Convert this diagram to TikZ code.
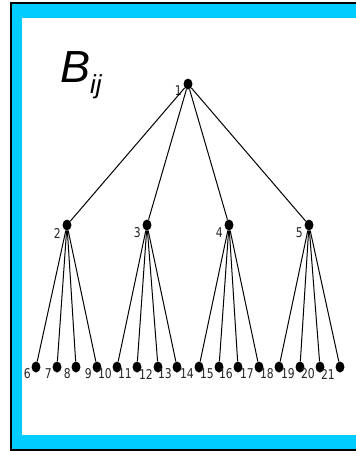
\documentclass[tikz,border=0pt]{standalone}
\usepackage{fontspec}
\setmainfont{Liberation Sans}
\newfontfamily\numfont[FakeStretch=0.8]{DejaVu Sans}
\usetikzlibrary{shapes.geometric}
\definecolor{frameblue}{RGB}{0,204,255}

\begin{document}
\begin{tikzpicture}[
	x=1pt,y=-1pt,
	tnode/.style={ellipse,fill=black,inner sep=0pt,minimum width=9pt,minimum height=11pt},
	tlab/.style={anchor=east,inner sep=0pt,font=\numfont\fontsize{13.5}{13.5}\selectfont,text=black!85},
	tedge/.style={draw=black,line width=1pt}
	]
	\useasboundingbox (0,0) rectangle (356,451);
	\clip (0,0) rectangle (356,451);
	% frame
	\fill[black] (10,2) rectangle (370,451);
	\fill[frameblue] (12,4) rectangle (370,449);
	\fill[white] (22,18) rectangle (370,435);
	\node[anchor=base west,inner sep=0pt,font=\itshape\fontsize{45}{45}\selectfont] (title) at (60,82)
		{B\raisebox{-11pt}{\fontsize{26}{26}\selectfont ij}};
	% root
	\node[tnode] (n1) at (188,84) {};
	\node[tlab] (t1) at (182,91) {1};
	% second level
	\foreach \i/\x in {2/67,3/147,4/229,5/309}{
		\node[tnode] (n\i) at (\x,225) {};
		\node[tlab] (t\i) at ({\x-6},233) {\i};
		\draw[tedge] (n1) -- (n\i);
	}
	% leaves
	\foreach \i/\x/\p in {6/36/2,7/57/2,8/76/2,9/97/2,10/117/3,11/137/3,12/158/3,13/177/3,
		14/199/4,15/219/4,16/238/4,17/259/4,18/279/5,19/300/5,20/320/5,21/340/5}{
		\node[tnode] (n\i) at (\x,367) {};
		\node[tlab] (t\i) at ({\x-5},374) {\i};
		\draw[tedge] (n\p) -- (n\i);
	}
\end{tikzpicture}
\end{document}
